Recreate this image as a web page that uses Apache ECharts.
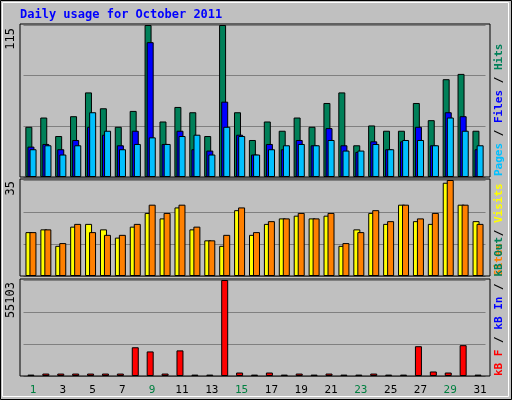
<!DOCTYPE html>
<html>
<head>
<meta charset="utf-8">
<script src="https://cdn.jsdelivr.net/npm/echarts@6/dist/echarts.min.js"></script>
<style>html,body{margin:0;padding:0;background:#c0c0c0}#main{width:512px;height:400px}</style>
</head>
<body>
<div id="main"></div>
<script>
const days = ['1','2','3','4','5','6','7','8','9','10','11','12','13','14','15','16','17','18','19','20','21','22','23','24','25','26','27','28','29','30','31']
const weekend = ['1','2','8','9','15','16','22','23','29','30']
const hits = [38,45,31,46,64,52,38,50,115,42,53,49,31,115,49,28,42,35,45,38,56,64,24,39,35,35,56,43,74,78,35]
const files = [23,25,21,28,38,32,24,35,102,25,35,21,20,57,32,17,25,21,28,24,37,24,19,27,21,27,38,24,49,46,21]
const pages = [21,24,17,24,49,35,21,25,30,25,31,32,17,38,31,17,21,24,25,24,28,20,20,25,21,28,28,24,45,35,24]
const visits = [16,17,11,18,19,17,14,18,23,21,25,17,13,11,24,15,19,21,22,21,22,11,17,23,19,26,20,19,34,26,20]
const sites = [16,17,12,19,16,15,15,19,26,23,26,18,13,15,25,16,20,21,23,21,23,12,16,24,20,26,21,23,35,26,19]
const kbF = [800,1400,1400,1400,1400,1400,1400,16500,14100,1400,14700,800,800,55103,2000,800,2000,800,1400,800,1400,800,800,1400,800,800,17100,2600,2000,17700,800]
const maxHits = 115, maxVisits = 35, maxKb = 55103

const chart = echarts.init(document.getElementById('main'))
const mono = 'DejaVu Sans Mono'
const panels = [{top: 25, height: 152}, {top: 180, height: 96}, {top: 280, height: 96}]
const grids = panels.map(p => ({left: 23.5, right: 26.5, top: p.top, height: p.height}))
const xAxes = panels.map((p, i) => ({
  type: 'category', gridIndex: i, data: days,
  axisLine: {show: false}, axisTick: {show: false},
  axisLabel: i === 2 ? {
    show: true, margin: 9, fontFamily: mono, fontSize: 11, padding: [0, 0, 0, 4],
    color: (v) => weekend.includes(v) ? '#008040' : '#000'
  } : {show: false}
}))
const yAxes = [maxHits, maxVisits, maxKb].map((m, i) => ({
  type: 'value', gridIndex: i, min: 0, max: m, interval: m / 3,
  axisLabel: {show: false}, axisLine: {show: false}, axisTick: {show: false},
  splitLine: {show: true, lineStyle: {color: '#808080', width: 1}}
}))
const bar = (name, data, color, gi, gap) => ({
  name, type: 'bar', data, xAxisIndex: gi, yAxisIndex: gi, barWidth: 7, barGap: gap,
  itemStyle: {color, borderColor: '#000', borderWidth: 1}, animation: false
})

const frames = panels.map(p => ({
  type: 'rect', shape: {x: 20, y: p.top - 1, width: 470, height: p.height + 1},
  style: {fill: 'none', stroke: '#000', lineWidth: 1}, z: 10
}))
const sideLabel = (text, y) => ({
  type: 'text', x: 11, y, rotation: Math.PI / 2,
  style: {text, font: '12px ' + mono, fill: '#000', align: 'right', verticalAlign: 'middle'}
})
const legend = (y, parts) => ({
  type: 'text', x: 499, y, rotation: Math.PI / 2,
  style: {
    text: parts.map((p, i) => '{c' + i + '|' + p[0] + '}').join(''),
    rich: Object.fromEntries(parts.map((p, i) => ['c' + i, {fill: p[1], font: 'bold 11px ' + mono}])),
    align: 'left', verticalAlign: 'middle'
  }
})

chart.setOption({
  backgroundColor: '#c0c0c0',
  animation: false,
  grid: grids,
  xAxis: xAxes,
  yAxis: yAxes,
  series: [
    bar('Hits', hits, '#008059', 0, '-70%'),
    bar('Files', files, '#0000ff', 0, '-70%'),
    bar('Pages', pages, '#00c0ff', 0, '-70%'),
    bar('Visits', visits, '#ffff00', 1, '-43%'),
    bar('Sites', sites, '#ff8000', 1, '-43%'),
    bar('kB F', kbF, '#ff0000', 2, '-43%')
  ],
  graphic: [
    {type: 'rect', shape: {x: 0.5, y: 0.5, width: 511, height: 399}, style: {fill: 'none', stroke: '#000', lineWidth: 1}},
    {type: 'rect', shape: {x: 2.5, y: 2.5, width: 506, height: 394}, style: {fill: 'none', stroke: '#fff', lineWidth: 1}},
    {type: 'text', x: 20, y: 15, style: {text: 'Daily usage for October 2011', font: 'bold 12px ' + mono, fill: '#0000ff', verticalAlign: 'middle'}},
    ...frames,
    sideLabel('115', 28),
    sideLabel('35', 181),
    sideLabel('55103', 282),
    legend(176, [['Pages', '#00c0ff'], [' / ', '#000'], ['Files', '#0000ff'], [' / ', '#000'], ['Hits', '#008059']]),
    legend(276, [['Visits', '#ffff00'], [' / ', '#000'], ['Sites', '#ff8000'], [' ', '#000'], ['kB Out', '#008059']].slice(0, 3).concat([['Sites', '#ff8000']]).slice(0,0).concat([['Sites', '#ff8000'], [' / ', '#000'], ['Visits', '#ffff00']])),
    legend(376, [['kB F', '#ff0000'], [' / ', '#000'], ['kB In', '#0000ff'], [' / ', '#000'], ['kB Out', '#008059']])
  ]
})
</script>
</body>
</html>
